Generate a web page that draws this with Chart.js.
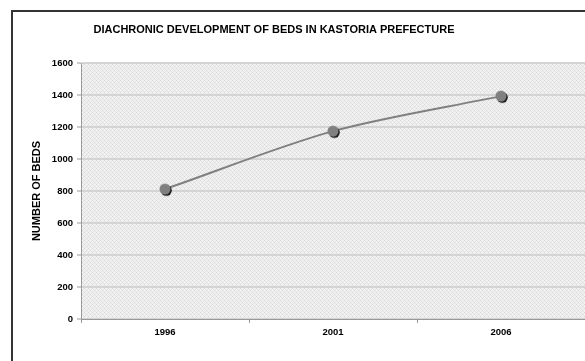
<!DOCTYPE html>
<html>
<head>
<meta charset="utf-8">
<title>Beds in Kastoria Prefecture</title>
<script src="https://cdn.jsdelivr.net/npm/chart.js@4/dist/chart.umd.min.js"></script>
<style>
    html, body { margin: 0; padding: 0; background: #fff; overflow: hidden; }
    #wrap { width: 585px; height: 361px; position: relative; overflow: hidden; }
</style>
</head>
<body>
<div id="wrap"><canvas id="beds-chart" width="593" height="361"></canvas></div>
<script>
/**
 * Diachronic development of beds — Kastoria prefecture
 */
const years = ["1996", "2001", "2006"];
const beds = [812, 1174, 1393];
const yMin = 0;
const yMax = 1600;
const yStep = 200;
const chartTitle = "DIACHRONIC DEVELOPMENT OF BEDS IN KASTORIA PREFECTURE";
const yTitle = "NUMBER OF BEDS";

(function () {
    "use strict";

    const FONT = "'Liberation Sans', Arial, sans-serif";

    /**
     * Light cross-hatch fill used behind the plot area
     */
    function makeHatch(ctx) {
        const tile = document.createElement("canvas");
        tile.width = 4;
        tile.height = 4;
        const t = tile.getContext("2d");
        t.fillStyle = "#f2f2f2";
        t.fillRect(0, 0, 4, 4);
        t.fillStyle = "#d6d6d6";
        t.fillRect(0, 0, 1, 1);
        t.fillRect(2, 2, 1, 1);
        t.fillStyle = "#e3e3e3";
        t.fillRect(1, 1, 1, 1);
        t.fillRect(3, 3, 1, 1);
        t.fillRect(3, 1, 1, 1);
        t.fillRect(1, 3, 1, 1);
        return ctx.createPattern(tile, "repeat");
    }

    /**
     * Gray marker with a dark drop shadow (Excel style)
     */
    function makeMarker() {
        const c = document.createElement("canvas");
        c.width = 16;
        c.height = 16;
        const g = c.getContext("2d");
        g.fillStyle = "#1a1a1a";
        g.beginPath();
        g.arc(9.3, 9.3, 5.5, 0, Math.PI * 2);
        g.fill();
        g.fillStyle = "#808080";
        g.beginPath();
        g.arc(8, 8, 5.5, 0, Math.PI * 2);
        g.fill();
        return c;
    }

    // frame, plot background and title
    const decor = {
        id: "decor",
        beforeDraw: function (chart) {
            const ctx = chart.ctx;
            const a = chart.chartArea;
            ctx.save();
            ctx.fillStyle = "#fff";
            ctx.fillRect(0, 0, chart.width, chart.height);
            ctx.fillStyle = makeHatch(ctx);
            ctx.fillRect(a.left, a.top, a.right - a.left, a.bottom - a.top);
            ctx.strokeStyle = "#333";
            ctx.lineWidth = 2;
            ctx.strokeRect(12, 11, chart.width + 20, chart.height + 20);
            ctx.restore();
        },
        afterDraw: function (chart) {
            const ctx = chart.ctx;
            ctx.save();
            ctx.fillStyle = "#000";
            ctx.font = "bold 11px " + FONT;
            ctx.textAlign = "center";
            ctx.textBaseline = "middle";
            ctx.fillText(chartTitle, 274, 30);
            ctx.restore();
        },
    };

    const canvas = document.getElementById("beds-chart");

    new Chart(canvas.getContext("2d"), {
        type: "line",
        data: {
            labels: years,
            datasets: [
                {
                    label: yTitle,
                    data: beds,
                    borderColor: "#808080",
                    borderWidth: 2,
                    tension: 0.3,
                    fill: false,
                    pointStyle: makeMarker(),
                    pointRadius: 6,
                },
            ],
        },
        options: {
            animation: false,
            responsive: false,
            devicePixelRatio: 1,
            layout: {
                padding: { left: 11, top: 63, right: 0, bottom: 0 },
            },
            plugins: {
                legend: { display: false },
                title: { display: false },
                tooltip: { enabled: false },
            },
            scales: {
                x: {
                    offset: true,
                    afterFit: function (scale) {
                        scale.height = 42;
                    },
                    grid: {
                        offset: true,
                        drawOnChartArea: false,
                        tickLength: 4,
                        color: "#999",
                    },
                    border: { color: "#999", width: 1 },
                    ticks: {
                        color: "#000",
                        padding: 4,
                        font: { family: FONT, size: 9.5, weight: "bold" },
                    },
                },
                y: {
                    min: yMin,
                    max: yMax,
                    afterFit: function (scale) {
                        scale.width = 70;
                    },
                    grid: {
                        color: "#d4d4d4",
                        lineWidth: 2,
                        tickLength: 4,
                        tickColor: "#999",
                        tickWidth: 1,
                    },
                    border: { color: "#999", width: 1 },
                    title: {
                        display: true,
                        text: yTitle,
                        color: "#000",
                        padding: { top: 19, bottom: 0 },
                        font: { family: FONT, size: 11, weight: "bold" },
                    },
                    ticks: {
                        stepSize: yStep,
                        color: "#000",
                        padding: 4,
                        font: { family: FONT, size: 9.5, weight: "bold" },
                        callback: function (value) {
                            return String(value);
                        },
                    },
                },
            },
        },
        plugins: [decor],
    });
})();
</script>
</body>
</html>
